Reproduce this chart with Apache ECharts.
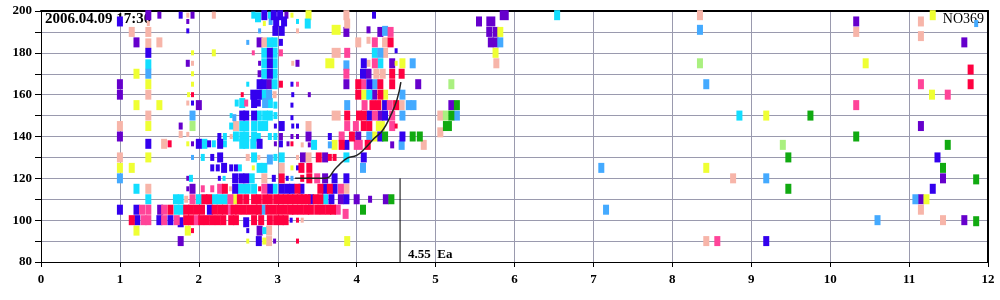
<!DOCTYPE html>
<html><head><meta charset="utf-8">
<script src="https://cdn.jsdelivr.net/npm/echarts@6/dist/echarts.min.js"></script>
<style>html,body{margin:0;padding:0;background:#fff}#c{width:1000px;height:300px}</style>
</head><body><div id="c"></div>
<script>
// ---- data: [frequency MHz, virtual height km, amplitude class] ----
const xTicks = [0,1,2,3,4,5,6,7,8,9,10,11,12];
const yTicks = [80,100,120,140,160,180,200];
const stationLabel = "NO369";
const timeLabel = "2006.04.09 17:30";
const eaFreq = 4.55;
const eaTop = 120;
const traceX = [3.22,3.59,3.75,3.88,4.0,4.11,4.22,4.33,4.43,4.51,4.56];
const traceY = [120,120,125.4,129.7,131,134.5,139,143,150,157.5,166];

const purple = [[1.0,165,3],[1.0,160,3],[1.0,140,3],[1.21,185,3],[1.36,198,3],[1.5,198,2],[1.92,198,2],[1.86,195,1],[1.86,175,2],[2.0,155,3],[1.77,145,2],[2.77,185,3],[3.11,198,2],[3.25,175,2],[2.77,175,1],[2.77,170,2],[2.89,165,3],[3.04,140,2],[3.18,140,1],[3.25,140,1],[1.92,136.5,1],[2.97,136.5,1],[3.13,136.5,1],[1.51,105,3],[1.86,120,1],[1.86,115,1],[1.92,115,3],[3.6,130,3],[3.32,130,3],[3.4,160,1],[3.39,140,3],[3.4,136,1],[3.87,190,3],[4.15,191,2],[4.3,190,3],[4.45,175,3],[4.15,170,3],[3.87,165,3],[4.78,165,3],[4.22,160,3],[4.3,150,3],[4.02,140,3],[4.45,136,2],[3.6,120,3],[3.8,110,3],[4.0,110,3],[4.17,110,2],[4.37,110,3],[2.77,95,3],[1.77,90,3],[2.96,90,1],[5.55,195,3],[5.7,195,4],[5.87,198,4],[5.68,190,3],[5.76,190,3],[5.76,185,3],[5.7,185,3],[5.2,155,3],[10.33,195,3],[11.7,185,3],[11.15,145,3],[11.43,120,3],[11.15,110,3],[11.7,100,3]];
const blue = [[1.0,195,3],[1.36,180,3],[1.36,136.5,3],[1.77,198,2],[1.86,190.5,1],[1.92,156,1],[2.83,198,3],[2.95,198,3],[3.03,198,3],[2.98,195,3],[3.08,195,3],[2.97,190.5,3],[3.05,190.5,3],[3.04,185,2],[2.9,180,3],[2.9,175,3],[2.9,170,3],[2.77,165,3],[2.82,165,3],[3.18,165,1],[2.69,160,3],[2.76,160,3],[3.19,160,1],[2.7,156,3],[2.76,156,2],[3.18,155,1],[2.55,150,3],[2.6,150,3],[2.7,150,3],[3.18,149,1],[2.97,145,1],[3.05,145,3],[3.19,145,1],[3.25,145,1],[2.26,140,2],[2.0,136.5,3],[2.13,136.5,2],[2.27,136.5,3],[2.77,136.5,3],[3.04,136.5,2],[2.17,130,2],[2.27,130,3],[2.17,125,2],[2.24,125,2],[2.32,125,3],[2.41,125,2],[2.47,125,2],[3.25,125,1],[2.26,120,1],[2.46,120,3],[2.54,120,3],[2.6,120,3],[2.95,120,2],[3.12,120,1],[2.46,115,3],[2.9,115,3],[3.05,115,3],[3.12,115,3],[3.18,115,3],[1.0,105,3],[1.21,105,3],[2.14,105,3],[1.22,100,3],[1.5,100,3],[1.64,100,3],[1.77,99,3],[2.6,99,3],[3.17,100,1],[2.62,95,1],[2.76,90,3],[4.22,198,2],[4.5,181,1],[4.09,175,3],[4.08,170,3],[4.16,165,3],[4.36,155,3],[4.16,150,3],[4.36,150,3],[3.66,140,2],[4.3,140,3],[4.58,140,3],[3.87,136,3],[4.09,130,3],[3.72,120,3],[3.87,120,3],[3.6,115,3],[3.72,115,3],[3.3,115,3],[3.42,110,3],[3.68,110,3],[3.87,110,3],[9.19,90,3],[11.36,130,3],[11.3,115,3]];
const salmon = [[1.0,145,3],[1.0,130,3],[1.15,190,3],[1.36,194,1],[1.36,190,3],[1.36,184.5,3],[1.36,160,3],[1.36,150,3],[1.36,115,3],[1.5,185,3],[1.86,198,1],[1.92,175,1],[1.86,156,1],[1.77,141,2],[1.86,141,1],[2.19,198,2],[3.25,190.5,1],[2.83,185,3],[3.19,175,1],[2.96,160,2],[2.47,145,3],[2.41,140,1],[1.56,136.5,3],[2.62,130,2],[2.76,130,1],[3.05,125,3],[2.83,120,3],[2.4,115,1],[1.84,110,2],[2.89,95,3],[2.89,90,3],[3.87,198,3],[3.88,194,3],[4.02,185,3],[4.15,186,2],[4.36,185,3],[3.74,180,4],[4.36,180,3],[4.15,175,2],[4.25,170,3],[4.33,170,3],[4.3,155,3],[4.57,155,3],[3.74,150,4],[3.39,145,3],[4.85,136,3],[3.31,136,1],[3.39,130,3],[3.25,130,1],[3.87,115,3],[3.31,100,1],[5.06,150,3],[5.06,142,3],[5.77,175,3],[8.35,198,3],[10.33,190,3],[11.15,195,3],[11.15,188,3],[8.77,120,3],[8.43,90,3],[11.15,105,3],[11.43,100,3]];
const hotpink = [[2.69,180,1],[3.04,180,2],[3.25,165,1],[2.6,156,2],[2.05,115,2],[2.17,115,2],[2.27,115,3],[2.83,115,3],[1.92,110,3],[2.4,110,3],[1.28,105,3],[1.36,105,3],[1.56,105,3],[2.39,105,3],[1.3,100,3],[1.36,100,3],[1.56,100,3],[1.72,100,3],[1.97,100,3],[4.23,185,3],[3.88,180,3],[4.23,175,3],[3.87,170,3],[4.08,165,3],[4.1,155,3],[4.42,155,3],[4.23,150,3],[4.45,150,3],[3.88,145,3],[3.99,145,3],[4.45,145,3],[3.81,140,3],[4.02,136,4],[3.5,120,3],[3.8,115,3],[3.76,105,3],[3.86,103,3],[4.43,190,3],[10.33,155,3],[11.15,165,3],[11.49,160,3],[8.57,90,3]];
const yellow = [[1.21,170,3],[1.21,155,3],[1.36,165,3],[1.36,145,3],[1.5,155,3],[1.92,180,1],[1.92,170,1],[1.92,165,1],[1.87,160,1],[2.19,180,2],[1.86,136.5,1],[2.83,194,1],[1.36,130,3],[1.0,125,3],[1.15,125,3],[2.69,125,1],[3.18,125,1],[2.46,110,3],[1.21,95,3],[1.86,95,3],[2.62,90,1],[2.83,90,2],[3.18,198,1],[3.39,198,3],[3.74,191,4],[3.66,175,4],[4.5,175,1],[4.58,175,3],[4.1,160,4],[4.36,160,3],[4.3,145,4],[4.23,140,3],[3.72,136,3],[3.88,90,3],[5.82,190,3],[5.76,180,3],[10.45,175,3],[11.3,198,3],[11.29,160,3],[9.19,150,3],[8.43,125,3],[11.22,110,3]];
const cyan = [[1.36,174.5,3],[1.21,115,3],[1.36,110,3],[2.69,198,2],[2.75,197,3],[2.9,198,2],[3.25,195,1],[2.9,185,3],[2.96,185,3],[2.83,180,3],[2.96,180,3],[2.83,175,3],[2.96,175,3],[2.83,170,3],[2.96,170,3],[2.62,165,1],[2.96,165,3],[2.82,160,4],[2.48,156,2],[2.55,156,3],[2.9,156,3],[2.97,155,2],[2.41,150,1],[2.76,150,3],[2.84,150,3],[2.9,150,3],[2.97,150,2],[2.41,145,2],[2.55,145,3],[2.6,145,3],[2.7,145,3],[2.78,145,3],[2.84,145,3],[2.33,140,2],[2.47,140,3],[2.55,140,3],[2.6,140,3],[2.7,140,3],[2.76,140,2],[2.9,140,2],[2.97,140,2],[2.07,136.5,3],[2.19,136.5,2],[2.33,136.5,2],[2.55,136.5,3],[2.6,136.5,3],[2.69,136.5,3],[2.05,130,2],[2.7,130,3],[2.97,130,2],[3.05,130,3],[2.52,125,2],[2.77,125,3],[2.83,125,3],[1.9,120,2],[2.32,120,1],[2.67,120,3],[2.54,115,4],[2.62,115,3],[2.7,115,3],[2.96,115,3],[1.71,110,3],[1.77,110,3],[2.0,110,3],[2.2,110,3],[2.26,110,3],[2.33,110,3],[1.72,105,3],[1.78,105,3],[2.83,95,2],[3.38,194,3],[3.46,136,3],[3.87,130,3],[3.6,110,3],[4.23,180,3],[4.3,175,3],[4.16,160,3],[6.54,198,3],[8.85,150,3]];
const lightblue = [[1.36,170,3],[1.0,120,3],[2.62,185,1],[2.77,190.5,1],[2.91,195,2],[2.89,160,3],[2.84,156,3],[2.45,149,2],[1.92,150,3],[1.92,130,1],[2.9,129,3],[3.18,120,1],[2.81,105,3],[4.36,190.5,3],[4.3,180,3],[3.87,174,3],[4.71,175,3],[4.23,165,3],[4.58,160,3],[3.88,155,3],[4.66,155,3],[4.72,155,3],[4.58,150,3],[4.16,140,3],[3.66,136,2],[4.57,136,3],[4.08,125,3],[5.82,185,3],[5.27,150,3],[8.35,191,3],[8.43,165,3],[11.85,194,2],[7.1,125,3],[9.19,120,3],[11.08,110,3],[7.16,105,3],[10.6,100,3]];
const red = [[1.92,160,1],[1.63,136.5,2],[3.18,136.5,1],[3.04,165,2],[2.55,160,1],[3.05,120,3],[2.33,115,3],[2.77,115,1],[3.25,115,3],[2.07,110,3],[2.13,110,3],[2.52,110,3],[2.6,110,3],[2.7,110,3],[2.76,110,3],[2.84,110,3],[2.9,110,3],[2.98,110,3],[3.04,110,3],[3.1,110,3],[3.16,110,3],[3.22,110,3],[3.28,110,3],[3.33,110,3],[3.38,110,3],[3.48,110,3],[3.54,110,3],[1.64,105,3],[1.84,105,3],[1.9,105,3],[1.97,105,3],[2.04,105,3],[2.2,105,3],[2.27,105,3],[2.33,105,3],[2.44,105,3],[2.5,105,3],[2.57,105,3],[2.64,105,3],[2.71,105,3],[2.76,105,3],[2.88,105,3],[2.95,105,3],[3.02,105,3],[3.09,105,3],[3.16,105,3],[3.22,105,3],[3.29,105,3],[3.36,105,3],[3.42,105,3],[3.5,105,3],[3.57,105,3],[3.64,105,3],[3.7,105,3],[1.15,100,3],[1.84,100,3],[1.9,100,3],[2.03,100,3],[2.1,100,3],[2.17,100,3],[2.24,100,3],[2.31,100,3],[2.41,100,3],[2.47,100,3],[2.7,100,3],[2.79,100,3],[2.9,100,3],[2.98,100,3],[3.04,100,3],[3.1,100,3],[3.25,100,1],[1.92,95,1],[3.25,90,1],[4.43,185,3],[4.45,170,3],[4.57,170,3],[4.02,165,3],[4.3,165,3],[4.45,165,3],[4.02,160,3],[4.3,160,3],[4.2,155,3],[4.27,155,3],[4.5,155,3],[3.88,150,3],[4.03,150,3],[4.09,150,3],[4.09,145,3],[4.16,145,3],[4.5,145,1],[3.94,140,3],[3.81,136,3],[4.14,136,3],[3.52,130,3],[3.66,130,2],[3.72,130,2],[3.54,115,3],[3.66,115,3],[3.3,125,3],[3.4,125,3],[3.31,120,2],[3.4,120,3],[11.78,172,3],[11.78,165,3]];
const lightgreen = [[1.92,145,3],[5.2,165,3],[5.13,150,3],[8.35,175,3],[9.4,136,3]];
const green = [[4.36,140,3],[4.71,140,3],[4.8,140,3],[4.44,110,3],[4.08,105,3],[5.15,145,4],[5.27,155,3],[5.2,150,3],[9.75,150,3],[10.33,140,3],[11.49,136,3],[9.47,130,3],[11.43,125,3],[11.85,119.5,3],[9.47,115,3],[11.85,99.5,3]];

const groups = [
  ['purple', purple, '#6600cc'], ['salmon', salmon, '#f7b5a9'], ['yellow', yellow, '#efff33'],
  ['cyan', cyan, '#12deff'], ['lightblue', lightblue, '#44aaff'], ['blue', blue, '#3300ee'],
  ['hotpink', hotpink, '#ff4499'], ['red', red, '#ff0040'], ['lightgreen', lightgreen, '#aaf080'],
  ['green', green, '#11aa11']
];
const ampSize = {1:[3,5], 2:[4,7], 3:[6,10], 4:[9,10]};

const chart = echarts.init(document.getElementById('c'), null, {renderer:'canvas'});
const font = '"Liberation Serif","Times New Roman",serif';
const grid = {left:41, right:12, top:11, bottom:38, show:false};
const series = groups.map(g => ({
  name:g[0], type:'scatter', data:g[1], symbol:'rect',
  symbolSize: v => ampSize[v[2]], itemStyle:{color:g[2], opacity:1},
  silent:true, z:3
}));
series.push({type:'line', data:traceX.map((x,i)=>[x,traceY[i]]), smooth:true, symbol:'none',
  lineStyle:{color:'#222', width:1.5}, z:5});
series.push({type:'line', data:[[eaFreq,80],[eaFreq,eaTop]], symbol:'none',
  lineStyle:{color:'#000', width:1}, z:5});
series.push({type:'scatter', data:[[eaFreq,80]], symbolSize:0, z:5, itemStyle:{opacity:1},
  label:{show:true, position:'right', offset:[3,-7], formatter: eaFreq + '  Ea', opacity:1,
    fontFamily:font, fontWeight:'bold', fontSize:13, color:'#000'}});

chart.setOption({
  animation:false,
  grid: grid,
  xAxis:[{type:'value', min:xTicks[0], max:xTicks[xTicks.length-1], interval:1,
    axisLine:{show:true, lineStyle:{color:'#000', width:1}},
    axisTick:{show:true, length:5, lineStyle:{color:'#000'}},
    axisLabel:{fontFamily:font, fontWeight:'bold', fontSize:13, color:'#000', margin:11},
    splitLine:{show:true, lineStyle:{color:'#9a9aae', width:1}}},
    {type:'value', position:'top', min:0, max:12, axisLine:{show:true, onZero:false, lineStyle:{color:'#000', width:2}},
    axisTick:{show:false}, axisLabel:{show:false}, splitLine:{show:false}}],
  yAxis:[{type:'value', min:yTicks[0], max:yTicks[yTicks.length-1], interval:10,
    axisLine:{show:true, lineStyle:{color:'#000', width:1}},
    axisTick:{show:true, length:6, lineStyle:{color:'#000'}},
    axisLabel:{fontFamily:font, fontWeight:'bold', fontSize:13, color:'#000', margin:9,
      formatter: v => yTicks.includes(v) ? String(v) : ''},
    splitLine:{show:true, lineStyle:{color:'#9a9aae', width:1}}},
    {type:'value', position:'right', min:80, max:200, axisLine:{show:true, onZero:false, lineStyle:{color:'#000', width:2}},
    axisTick:{show:false}, axisLabel:{show:false}, splitLine:{show:false}}],
  graphic:[
    {type:'text', left:45, top:12, z:1, style:{text:timeLabel, font:'bold 15px ' + font, fill:'#000'}},
    {type:'text', right:16, top:12, z:1, style:{text:stationLabel, font:'14px ' + font, fill:'#000'}}
  ],
  series: series
});
</script></body></html>
